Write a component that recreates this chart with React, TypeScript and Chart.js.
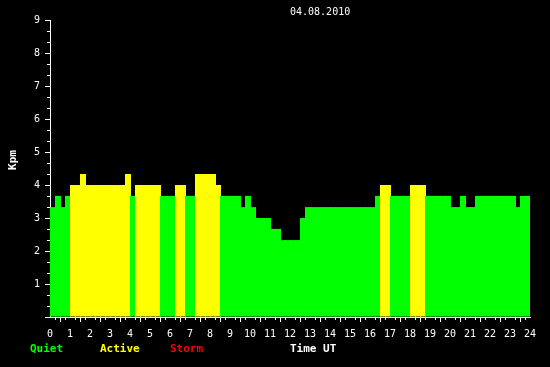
import React, { useEffect, useRef } from 'react';
import { Chart, registerables } from 'chart.js';

Chart.register(...registerables);

const DATE_LABEL = '04.08.2010';
const X_TITLE = 'Time UT';
const Y_TITLE = 'Kpm';
const SLOT_HOURS = 0.25;
// Kpm value for each 15-minute slot, 00:00 .. 23:45 UT
const KPM = [
  3.33, 3.67, 3.33, 3.67,
  4, 4, 4.33, 4,
  4, 4, 4, 4,
  4, 4, 4, 4.33,
  3.67, 4, 4, 4,
  4, 4, 3.67, 3.67,
  3.67, 4, 4, 3.67,
  3.67, 4.33, 4.33, 4.33,
  4.33, 4, 3.67, 3.67,
  3.67, 3.67, 3.33, 3.67,
  3.33, 3, 3, 3,
  2.67, 2.67, 2.33, 2.33,
  2.33, 2.33, 3, 3.33,
  3.33, 3.33, 3.33, 3.33,
  3.33, 3.33, 3.33, 3.33,
  3.33, 3.33, 3.33, 3.33,
  3.33, 3.67, 4, 4,
  3.67, 3.67, 3.67, 3.67,
  4, 4, 4, 3.67,
  3.67, 3.67, 3.67, 3.67,
  3.33, 3.33, 3.67, 3.33,
  3.33, 3.67, 3.67, 3.67,
  3.67, 3.67, 3.67, 3.67,
  3.67, 3.33, 3.67, 3.67,
];
const LEGEND_LABELS = ['Quiet', 'Active', 'Storm'];
const LEGEND_COLORS = ['#00ff00', '#ffff00', '#ff0000'];
const LEVEL_THRESHOLDS = [0, 4, 5];
const X_MIN = 0;
const X_MAX = 24;
const Y_MIN = 0;
const Y_MAX = 9;

const MONO = "'DejaVu Sans Mono', monospace";

function colorFor(v: number): string {
  let c = LEGEND_COLORS[0];
  for (let i = 0; i < LEVEL_THRESHOLDS.length; i++) {
    if (v >= LEVEL_THRESHOLDS[i]) c = LEGEND_COLORS[i];
  }
  return c;
}

export default function App() {
  const ref = useRef<HTMLCanvasElement | null>(null);

  useEffect(() => {
    document.body.style.margin = '0';
    document.body.style.background = '#000';
    const canvas = ref.current;
    if (!canvas) return;

    const points = KPM.map((v, i) => ({ x: i * SLOT_HOURS + SLOT_HOURS * 0.6, y: v }));

    const decor = {
      id: 'decor',
      beforeDraw(chart: any) {
        const ctx = chart.ctx;
        ctx.save();
        ctx.fillStyle = '#000';
        ctx.fillRect(0, 0, chart.width, chart.height);
        ctx.restore();
      },
      afterDraw(chart: any) {
        const ctx = chart.ctx;
        const xs = chart.scales.x;
        const ys = chart.scales.y;
        const area = chart.chartArea;
        ctx.save();
        ctx.strokeStyle = '#fff';
        ctx.lineWidth = 1;
        ctx.beginPath();
        for (let v = X_MIN; v <= X_MAX; v += SLOT_HOURS) {
          if (Math.abs(v - Math.round(v)) < 1e-6) continue;
          const px = Math.round(xs.getPixelForValue(v)) + 0.5;
          ctx.moveTo(px, area.bottom);
          ctx.lineTo(px, area.bottom + 3);
        }
        for (let v = Y_MIN; v <= Y_MAX; v += 1 / 3) {
          if (Math.abs(v - Math.round(v)) < 1e-6) continue;
          const py = Math.round(ys.getPixelForValue(v)) + 0.5;
          ctx.moveTo(area.left - 3, py);
          ctx.lineTo(area.left, py);
        }
        ctx.stroke();

        ctx.fillStyle = '#fff';
        ctx.textBaseline = 'middle';
        ctx.textAlign = 'left';
        ctx.font = `10px ${MONO}`;
        ctx.fillText(DATE_LABEL, 290, 12);

        ctx.font = `bold 11px ${MONO}`;
        const legendX = [30, 100, 170];
        LEGEND_LABELS.forEach((t, i) => {
          ctx.fillStyle = LEGEND_COLORS[i];
          ctx.fillText(t, legendX[i], 349);
        });
        ctx.fillStyle = '#fff';
        ctx.fillText(X_TITLE, 290, 349);

        ctx.translate(13, 160);
        ctx.rotate(-Math.PI / 2);
        ctx.textAlign = 'center';
        ctx.fillText(Y_TITLE, 0, 0);
        ctx.restore();
      },
    };

    const chart = new Chart(canvas, {
      type: 'bar',
      data: {
        datasets: [
          {
            data: points,
            backgroundColor: KPM.map(colorFor),
            borderWidth: 0,
            barPercentage: 1.2,
            categoryPercentage: 1,
          },
        ],
      },
      options: {
        animation: false,
        responsive: false,
        devicePixelRatio: 1,
        layout: { padding: { top: 20, right: 20, left: 0, bottom: 0 } },
        plugins: {
          legend: { display: false },
          title: { display: false },
          tooltip: { enabled: false },
        },
        scales: {
          x: {
            type: 'linear',
            min: X_MIN,
            max: X_MAX,
            offset: false,
            afterFit: (s: any) => { s.height = 50; },
            grid: { drawOnChartArea: false, drawTicks: true, tickLength: 5, tickColor: '#fff' },
            border: { color: '#fff', width: 1 },
            ticks: {
              stepSize: 1,
              autoSkip: false,
              maxRotation: 0,
              color: '#fff',
              padding: 6,
              font: { family: MONO, size: 10 },
            },
          },
          y: {
            type: 'linear',
            min: Y_MIN,
            max: Y_MAX,
            afterFit: (s: any) => { s.width = 50; },
            grid: { drawOnChartArea: false, drawTicks: true, tickLength: 5, tickColor: '#fff' },
            border: { color: '#fff', width: 1 },
            ticks: {
              stepSize: 1,
              color: '#fff',
              padding: 5,
              font: { family: MONO, size: 10 },
              callback: (v: any) => (Number(v) === 0 ? '' : String(v)),
            },
          },
        },
      },
      plugins: [decor],
    });

    return () => chart.destroy();
  }, []);

  return (
    <canvas
      ref={ref}
      width={550}
      height={367}
      style={{ position: 'fixed', left: 0, top: 0, width: 550, height: 367 }}
    />
  );
}
